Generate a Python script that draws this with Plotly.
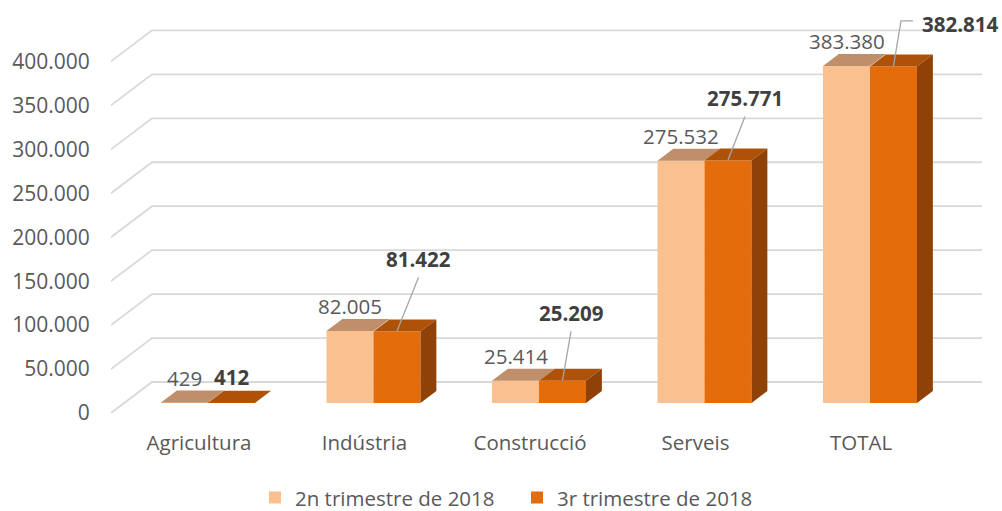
import plotly.graph_objects as go

# ---------------- data ----------------
categories = ["Agricultura", "Indústria", "Construcció", "Serveis", "TOTAL"]
q2_2018 = [429, 82005, 25414, 275532, 383380]
q3_2018 = [412, 81422, 25209, 275771, 382814]
series_names = ["2n trimestre de 2018", "3r trimestre de 2018"]
tick_values = [0, 50000, 100000, 150000, 200000, 250000, 300000, 350000, 400000]

# ---------------- style / geometry ----------------
W, H = 1002, 511
ML, MR, MT, MB = 111, 20, 10, 97
PX_CAT = 165.5          # pixels per category
PX_VAL = 0.000879       # pixels per unit of value
X0_PX = 208             # pixel x of first category centre (bar front plane)
ZERO_PX = 403           # pixel y of value 0 on bar front plane

plot_w = W - ML - MR
plot_h = H - MT - MB
xr0 = -(X0_PX - ML) / PX_CAT
xr1 = xr0 + plot_w / PX_CAT
yr0 = -((H - MB) - ZERO_PX) / PX_VAL
yr1 = yr0 + plot_h / PX_VAL

DEPTH_DX = 41 / PX_CAT
DEPTH_DV = 31 / PX_VAL
GRID_FRONT = -10 / 31
GRID_BACK = 21 / 31
BAR_BACK = 12 / 31
BW = 47 / PX_CAT

C_LIGHT, C_LIGHT_TOP = "#FAC090", "#BF8F6B"
C_DARK, C_DARK_TOP, C_DARK_SIDE = "#E46C0A", "#AD5208", "#8F4106"
C_GRID = "#D9D9D9"
C_TEXT = "#595959"
C_BOLD = "#404040"
FONT = "Open Sans"
FS = 20.5

# dark-series label offsets in pixels (dx, dy) from bar top and leader style
dark_label_offsets = [(0, -26), (21.5, -72.4), (8.5, -68), (17, -62.6), (66.5, -43)]
dark_leader_style = [None, "below", "below", "below", "left"]


def fmt(v):
    return f"{v:,}".replace(",", ".")


def dxp(p):
    return p / PX_CAT


def dvp(p):
    return -p / PX_VAL


idx = list(range(len(categories)))
fig = go.Figure()

# gridlines (base axes, below bars)
gx, gy = [], []
for v in tick_values:
    gx += [xr0, xr0 + DEPTH_DX, xr1, None]
    gy += [v + GRID_FRONT * DEPTH_DV, v + GRID_BACK * DEPTH_DV, v + GRID_BACK * DEPTH_DV, None]
fig.add_trace(go.Scatter(x=gx, y=gy, mode="lines", line=dict(color=C_GRID, width=1.8),
                         showlegend=False, hoverinfo="skip"))

# bar front faces (overlay axes)
fig.add_trace(go.Bar(x=idx, y=q2_2018, width=BW, offset=-BW, marker=dict(color=C_LIGHT, line=dict(width=0)),
                     name=series_names[0], xaxis="x2", yaxis="y2"))
fig.add_trace(go.Bar(x=idx, y=q3_2018, width=BW, offset=0, marker=dict(color=C_DARK, line=dict(width=0)),
                     name=series_names[1], xaxis="x2", yaxis="y2"))

bdx = BAR_BACK * DEPTH_DX
bdv = BAR_BACK * DEPTH_DV


def top_faces(vals, off):
    xs, ys = [], []
    for i, v in zip(idx, vals):
        x0 = i + off
        x1 = x0 + BW
        xs += [x0, x1, x1 + bdx, x0 + bdx, x0, None]
        ys += [v, v, v + bdv, v + bdv, v, None]
    return xs, ys


for vals, off, col in [(q2_2018, -BW, C_LIGHT_TOP), (q3_2018, 0, C_DARK_TOP)]:
    xs, ys = top_faces(vals, off)
    fig.add_trace(go.Scatter(x=xs, y=ys, fill="toself", fillcolor=col, mode="lines",
                             line=dict(width=0, color=col), showlegend=False, hoverinfo="skip",
                             xaxis="x2", yaxis="y2"))

# side faces of the dark bars
sx, sy = [], []
for i, v in zip(idx, q3_2018):
    x1 = i + BW
    sx += [x1, x1, x1 + bdx, x1 + bdx, x1, None]
    sy += [0, v, v + bdv, bdv, 0, None]
fig.add_trace(go.Scatter(x=sx, y=sy, fill="toself", fillcolor=C_DARK_SIDE, mode="lines",
                         line=dict(width=0, color=C_DARK_SIDE), showlegend=False, hoverinfo="skip",
                         xaxis="x2", yaxis="y2"))

annotations = []
# light-series labels
for i, v in zip(idx, q2_2018):
    annotations.append(dict(x=i - BW / 2, y=v, xref="x", yref="y", yshift=25, text=fmt(v),
                            showarrow=False, font=dict(family=FONT, size=FS, color=C_TEXT)))

# dark-series labels + leader lines
lx_all, ly_all = [], []
for i, v, (ox, oy), style in zip(idx, q3_2018, dark_label_offsets, dark_leader_style):
    bx = i + BW / 2
    annotations.append(dict(x=bx, y=v, xref="x", yref="y", xshift=ox, yshift=-oy,
                            text="<b>" + fmt(v) + "</b>", showarrow=False,
                            font=dict(family=FONT, size=FS, color=C_BOLD)))
    if style == "below":
        lx_all += [bx + dxp(ox), bx, None]
        ly_all += [v + dvp(oy + 18.5), v + dvp(-0.5), None]
    elif style == "left":
        lx_all += [bx + dxp(ox - 47), bx + dxp(ox - 59), bx, None]
        ly_all += [v + dvp(oy - 2.6), v + dvp(oy - 2.6), v + dvp(-0.5), None]
fig.add_trace(go.Scatter(x=lx_all, y=ly_all, mode="lines", line=dict(color="#A6A6A6", width=1.3),
                         showlegend=False, hoverinfo="skip", xaxis="x2", yaxis="y2"))

fig.update_layout(
    width=W, height=H,
    margin=dict(l=ML, r=MR, t=MT, b=MB),
    paper_bgcolor="white", plot_bgcolor="white",
    barmode="overlay",
    font=dict(family=FONT, size=FS, color=C_TEXT),
    xaxis=dict(range=[xr0, xr1], showgrid=False, zeroline=False, showline=False,
               tickvals=[i - 9 / PX_CAT for i in idx], ticktext=categories,
               ticks="outside", ticklen=10, tickcolor="rgba(0,0,0,0)",
               tickfont=dict(family=FONT, size=FS, color=C_TEXT)),
    yaxis=dict(range=[yr0, yr1], showgrid=False, zeroline=False, showline=False,
               tickvals=[v + GRID_FRONT * DEPTH_DV for v in tick_values],
               ticktext=[fmt(v) for v in tick_values],
               ticks="outside", ticklen=16, tickcolor="rgba(0,0,0,0)",
               tickfont=dict(family=FONT, size=21, color=C_TEXT)),
    xaxis2=dict(range=[xr0, xr1], overlaying="x", visible=False),
    yaxis2=dict(range=[yr0, yr1], overlaying="y", visible=False),
    legend=dict(orientation="h", xref="container", x=255 / W, xanchor="left",
                y=0.026, yanchor="middle", yref="container",
                entrywidth=217, entrywidthmode="pixels",
                font=dict(family=FONT, size=FS, color=C_TEXT),
                bgcolor="rgba(0,0,0,0)"),
    annotations=annotations,
    showlegend=True,
)

fig.write_html("out.html", config={"displayModeBar": False},
               post_script="document.body.style.margin='0px';document.body.style.overflow='hidden';")
